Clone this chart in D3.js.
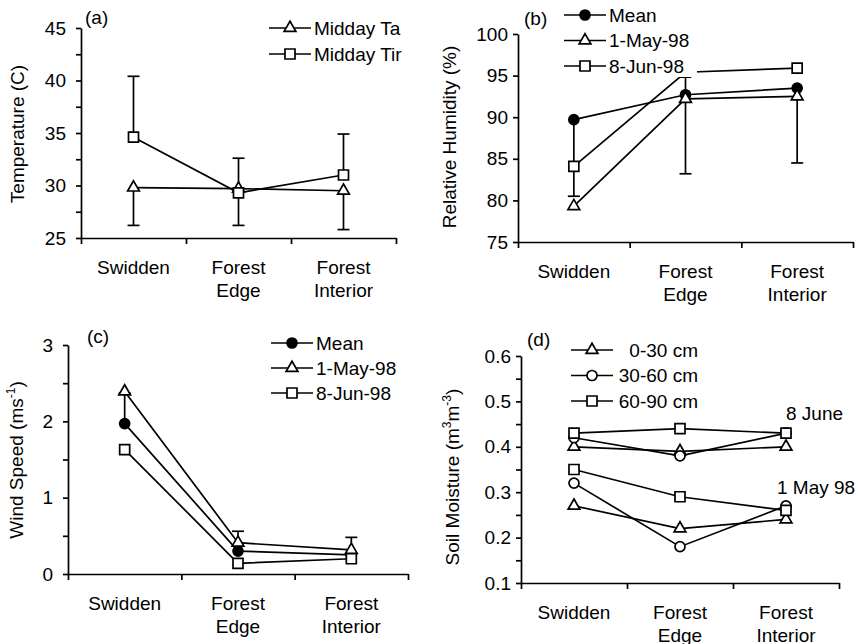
<!DOCTYPE html>
<html>
<head>
<meta charset="utf-8">
<script src="https://cdn.jsdelivr.net/npm/d3@7"></script>
<style>
    body { margin: 0; background: #fff; }
    text { font-family: "Liberation Sans", Arial, sans-serif; fill: #000; }
</style>
</head>
<body>
<svg id="chart" width="858" height="644"></svg>
<script>
// sites on the x axis of every panel
var categories = ["Swidden", "Forest Edge", "Forest Interior"];

// (a) midday temperature
var tempTa = [29.8, 29.7, 29.5];
var tempTir = [34.6, 29.3, 31.0];
var tempErrUp = [40.4, 32.6, 34.9];    // drawn up from Tir
var tempErrDown = [26.2, 26.2, 25.8];  // drawn down from Ta

// (b) relative humidity
var rhMean = [89.7, 92.7, 93.5];
var rhMay = [79.3, 92.2, 92.5];
var rhJun = [84.1, 95.4, 95.9];
var rhErrDown = [80.5, 83.2, 84.5];
var rhErrUp = [null, 95.0, null];

// (c) wind speed
var windMean = [1.97, 0.30, 0.25];
var windMay = [2.39, 0.41, 0.315];
var windJun = [1.63, 0.14, 0.20];
var windErrUp = [2.37, 0.56, 0.48];

// (d) soil moisture, 8 June and 1 May 98
var soilJun030 = [0.40, 0.39, 0.40];
var soilJun3060 = [0.42, 0.38, 0.43];
var soilJun6090 = [0.43, 0.44, 0.43];
var soilMay030 = [0.27, 0.22, 0.24];
var soilMay3060 = [0.32, 0.18, 0.27];
var soilMay6090 = [0.35, 0.29, 0.26];

var svg = d3.select("#chart");
var LW = 1.7;

/**
 * Draws one marker shape centred at x, y
 */
function drawMarker(g, shape, x, y) {
    if (shape === "circle" || shape === "dot") {
        g.append("circle")
            .attr("cx", x).attr("cy", y).attr("r", 5)
            .attr("fill", shape === "dot" ? "#000" : "#fff")
            .attr("stroke", "#000").attr("stroke-width", LW);
        return;
    }
    var type = shape === "square" ? d3.symbolSquare : d3.symbolTriangle;
    var size = shape === "square" ? 100 : 60;
    g.append("path")
        .attr("d", d3.symbol().type(type).size(size)())
        .attr("transform", "translate(" + x + "," + y + ")")
        .attr("fill", "#fff")
        .attr("stroke", "#000").attr("stroke-width", LW);
}

/**
 * Draws a complete panel: lines, error bars, markers, axes and legend
 */
function drawPanel(p) {
    var g = svg.append("g");
    var x = d3.scaleBand().domain(categories).range([p.left, p.right]);
    var y = d3.scaleLinear().domain(p.domain).range([p.bottom, p.top]);
    var cx = function (i) { return x(categories[i]) + x.bandwidth() / 2; };

    // series lines
    p.series.forEach(function (s) {
        g.append("path")
            .datum(s.values)
            .attr("d", d3.line().x(function (d, i) { return cx(i); }).y(function (d) { return y(d); }))
            .attr("fill", "none")
            .attr("stroke", "#000")
            .attr("stroke-width", LW);
    });

    // error bars
    (p.errors || []).forEach(function (e) {
        e.ends.forEach(function (end, i) {
            if (end === null) return;
            g.append("line")
                .attr("x1", cx(i)).attr("x2", cx(i))
                .attr("y1", y(e.base[i])).attr("y2", y(end))
                .attr("stroke", "#000").attr("stroke-width", LW);
            g.append("line")
                .attr("x1", cx(i) - 6).attr("x2", cx(i) + 6)
                .attr("y1", y(end)).attr("y2", y(end))
                .attr("stroke", "#000").attr("stroke-width", LW);
        });
    });

    // markers, in series order so later ones sit on top
    p.series.forEach(function (s) {
        s.values.forEach(function (d, i) {
            drawMarker(g, s.shape, cx(i), y(d));
        });
    });

    // y axis, labels only on the major ticks
    var n = Math.round((p.domain[1] - p.domain[0]) / p.minor);
    var yTicks = d3.range(n + 1).map(function (k) { return p.domain[0] + k * p.minor; });
    var yAxis = d3.axisLeft(y)
        .tickValues(yTicks)
        .tickSize(5)
        .tickSizeOuter(0)
        .tickPadding(p.padding)
        .tickFormat(function (d) {
            var r = d / p.major;
            return Math.abs(r - Math.round(r)) < 1e-6 ? p.format(d) : "";
        });
    var ya = g.append("g")
        .attr("transform", "translate(" + p.left + ",0)")
        .call(yAxis);

    // x axis with ticks between the sites
    var xb = d3.scaleLinear().domain([0, 3]).range([p.left, p.right]);
    var xa = g.append("g")
        .attr("transform", "translate(0," + p.bottom + ")")
        .call(d3.axisBottom(xb).tickValues([0, 1, 2, 3]).tickSize(6).tickSizeOuter(0).tickFormat(""));

    [ya, xa].forEach(function (a) {
        a.selectAll("path, line").attr("stroke", "#000").attr("stroke-width", LW);
        a.selectAll("text").style("font-size", "19px").attr("fill", "#000")
            .style("font-family", "'Liberation Sans', Arial, sans-serif");
    });

    // site names, split over two lines
    categories.forEach(function (c, i) {
        var t = g.append("text")
            .attr("text-anchor", "middle")
            .style("font-size", "19px");
        c.split(" ").forEach(function (w, k) {
            t.append("tspan")
                .attr("x", cx(i))
                .attr("y", p.bottom + 36 + k * 23)
                .text(w);
        });
    });

    // y axis title
    var title = g.append("text")
        .attr("transform", "translate(" + p.titleX + "," + p.titleY + ") rotate(-90)")
        .attr("text-anchor", "middle")
        .style("font-size", "19px");
    p.title.forEach(function (part) {
        title.append("tspan")
            .attr("dy", part.dy || 0)
            .style("font-size", part.sup ? "12px" : "19px")
            .text(part.text);
    });

    // panel letter
    g.append("text")
        .attr("x", p.tagX).attr("y", p.tagY)
        .style("font-size", "19px")
        .text(p.tag);

    // legend
    var L = p.legend;
    if (L.box) {
        g.append("rect")
            .attr("x", L.box[0]).attr("y", L.box[1])
            .attr("width", L.box[2]).attr("height", L.box[3])
            .attr("fill", "#fff");
    }
    L.items.forEach(function (item, k) {
        var ry = L.y + k * L.step;
        g.append("line")
            .attr("x1", L.x).attr("x2", L.x + 42)
            .attr("y1", ry).attr("y2", ry)
            .attr("stroke", "#000").attr("stroke-width", LW);
        drawMarker(g, item.shape, L.x + 21, ry);
        g.append("text")
            .attr("x", L.anchor === "end" ? L.textX : L.x + 45)
            .attr("y", ry)
            .attr("dy", "0.36em")
            .attr("text-anchor", L.anchor || "start")
            .style("font-size", "19px")
            .text(item.name);
    });

    (p.notes || []).forEach(function (nt) {
        g.append("text")
            .attr("x", nt.x).attr("y", nt.y)
            .style("font-size", "19px")
            .text(nt.text);
    });
}

drawPanel({
    left: 81, right: 396, top: 28, bottom: 238,
    domain: [25, 45], minor: 2.5, major: 5, padding: 10,
    format: d3.format("d"),
    series: [
        { values: tempTa, shape: "triangle" },
        { values: tempTir, shape: "square" }
    ],
    errors: [
        { base: tempTir, ends: tempErrUp },
        { base: tempTa, ends: tempErrDown }
    ],
    title: [{ text: "Temperature (C)" }],
    titleX: 24, titleY: 134,
    tag: "(a)", tagX: 85, tagY: 24,
    legend: {
        x: 269, y: 28, step: 26,
        items: [
            { name: "Midday Ta", shape: "triangle" },
            { name: "Midday Tir", shape: "square" }
        ]
    }
});

drawPanel({
    left: 518, right: 853, top: 34, bottom: 242,
    domain: [75, 100], minor: 5, major: 5, padding: 5,
    format: d3.format("d"),
    series: [
        { values: rhMean, shape: "dot" },
        { values: rhMay, shape: "triangle" },
        { values: rhJun, shape: "square" }
    ],
    errors: [
        { base: rhMean, ends: rhErrDown },
        { base: rhMean, ends: rhErrUp }
    ],
    title: [{ text: "Relative Humidity (%)" }],
    titleX: 456, titleY: 137,
    tag: "(b)", tagX: 524, tagY: 25,
    legend: {
        x: 564, y: 15, step: 25.5,
        box: [560, 0, 137, 77],
        items: [
            { name: "Mean", shape: "dot" },
            { name: "1-May-98", shape: "triangle" },
            { name: "8-Jun-98", shape: "square" }
        ]
    }
});

drawPanel({
    left: 68, right: 408, top: 345, bottom: 574,
    domain: [0, 3], minor: 0.5, major: 1, padding: 10,
    format: d3.format("d"),
    series: [
        { values: windMean, shape: "dot" },
        { values: windMay, shape: "triangle" },
        { values: windJun, shape: "square" }
    ],
    errors: [
        { base: windMean, ends: windErrUp }
    ],
    title: [
        { text: "Wind Speed (ms" },
        { text: "-1", sup: true, dy: -8 },
        { text: ")", dy: 8 }
    ],
    titleX: 23, titleY: 460,
    tag: "(c)", tagX: 87, tagY: 343,
    legend: {
        x: 271, y: 343, step: 25,
        items: [
            { name: "Mean", shape: "dot" },
            { name: "1-May-98", shape: "triangle" },
            { name: "8-Jun-98", shape: "square" }
        ]
    }
});

drawPanel({
    left: 521, right: 839, top: 356, bottom: 583,
    domain: [0.1, 0.6], minor: 0.05, major: 0.1, padding: 5,
    format: d3.format(".1f"),
    series: [
        { values: soilMay030, shape: "triangle" },
        { values: soilMay3060, shape: "circle" },
        { values: soilMay6090, shape: "square" },
        { values: soilJun030, shape: "triangle" },
        { values: soilJun3060, shape: "circle" },
        { values: soilJun6090, shape: "square" }
    ],
    title: [
        { text: "Soil Moisture (m" },
        { text: "3", sup: true, dy: -8 },
        { text: "m", dy: 8 },
        { text: "-3", sup: true, dy: -8 },
        { text: ")", dy: 8 }
    ],
    titleX: 459, titleY: 477,
    tag: "(d)", tagX: 527, tagY: 346,
    legend: {
        x: 571, y: 350, step: 25.5, anchor: "end", textX: 698,
        items: [
            { name: "0-30 cm", shape: "triangle" },
            { name: "30-60 cm", shape: "circle" },
            { name: "60-90 cm", shape: "square" }
        ]
    },
    notes: [
        { text: "8 June", x: 786, y: 420 },
        { text: "1 May 98", x: 777, y: 494 }
    ]
});
</script>
</body>
</html>
